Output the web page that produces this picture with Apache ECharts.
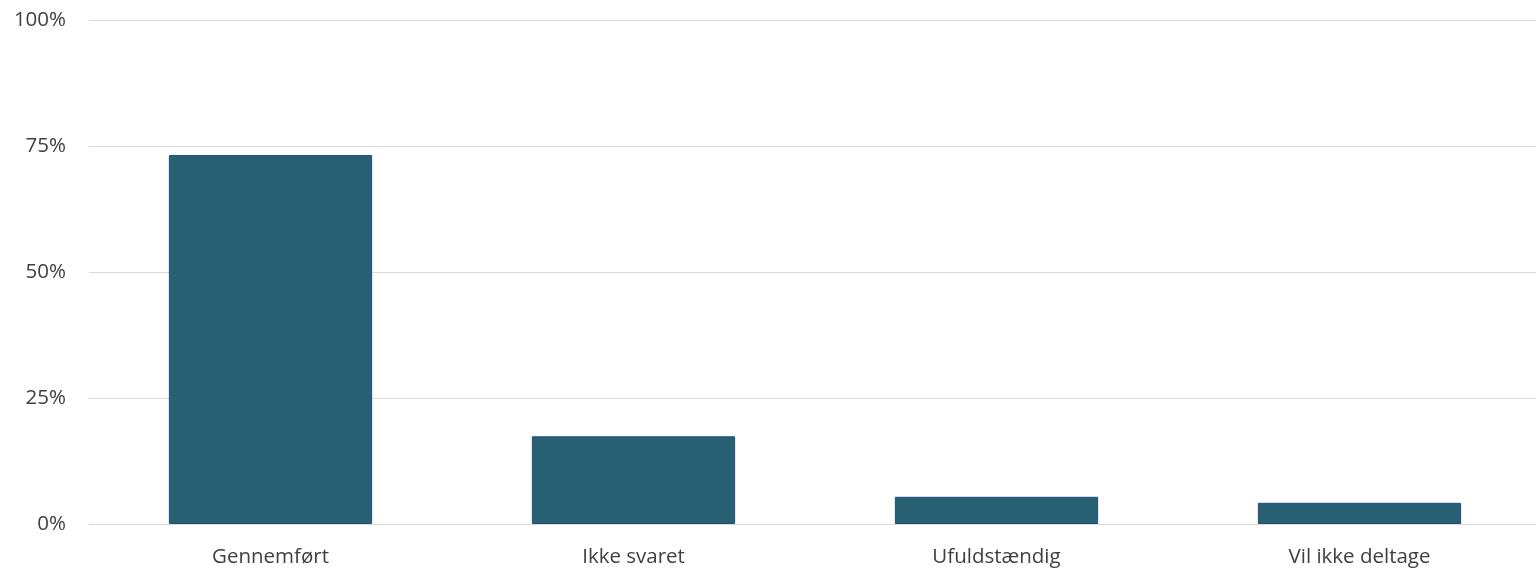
<!DOCTYPE html>
<html>
<head>
<meta charset="utf-8">
<script src="https://cdn.jsdelivr.net/npm/echarts@6/dist/echarts.min.js"></script>
<style>
html,body{margin:0;padding:0;background:#fff;}
#chart{width:1536px;height:568px;}
</style>
</head>
<body>
<div id="chart"></div>
<script>
const categories = ['Gennemført', 'Ikke svaret', 'Ufuldstændig', 'Vil ikke deltage'];
const values = [73.2, 17.4, 5.4, 4.2];
const yTicks = [0, 25, 50, 75, 100];

const chart = echarts.init(document.getElementById('chart'), null, {renderer: 'canvas'});
chart.setOption({
  animation: false,
  backgroundColor: '#ffffff',
  textStyle: {fontFamily: 'Open Sans'},
  grid: {left: 89, width: 1452, top: 20, height: 504, containLabel: false, outerBoundsMode: 'none'},
  xAxis: {
    type: 'category',
    data: categories,
    axisLine: {show: true, lineStyle: {color: '#d9d9d9', width: 1}},
    axisTick: {show: false},
    axisLabel: {color: '#404040', fontSize: 20.5, fontFamily: 'Open Sans', margin: 23}
  },
  yAxis: {
    type: 'value',
    min: yTicks[0],
    max: yTicks[yTicks.length - 1],
    interval: 25,
    axisLine: {show: false},
    axisTick: {show: false},
    splitLine: {lineStyle: {color: '#d9d9d9', width: 1}},
    axisLabel: {color: '#404040', fontSize: 20.5, fontFamily: 'Open Sans', margin: 23, formatter: '{value}%'}
  },
  series: [{
    type: 'bar',
    data: values,
    barWidth: '56%',
    itemStyle: {color: '#276073', borderColor: '#1f4e79', borderWidth: 1}
  }]
});
</script>
</body>
</html>
